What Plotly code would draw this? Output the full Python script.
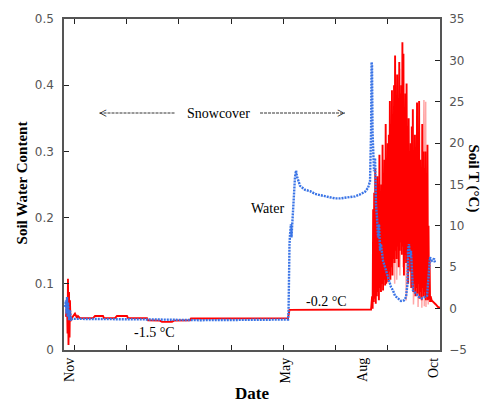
import plotly.graph_objects as go

# ---- data (x in days since start of record) ----
swc_day = [1.0, 1.9, 2.4, 2.9, 3.4, 3.8, 4.8, 5.7, 6.7, 8.6, 15, 40, 92, 130, 170, 214.5,
           215.0, 215.4, 215.9, 216.4, 217.3, 217.8, 218.3, 219.3, 220.2, 221.2, 222.2, 223.1,
           226.0, 230.8, 235.5, 240.3, 245.1, 249.9, 254.7, 259.5, 264.3, 269.0, 273.8, 278.6,
           283.4, 288.2, 291.1, 293.0, 294.0, 294.5, 294.9, 295.4, 295.9, 296.8, 297.8, 298.7,
           299.7, 300.7, 301.6, 302.6, 303.5, 305.4, 307.4, 309.3, 311.2, 313.1, 315.0, 316.9,
           319.8, 322.7, 325.5, 327.5, 328.9, 329.4, 330.3, 331.3, 332.2, 333.2, 334.1, 337.0,
           339.9, 342.8, 345.6, 347.6, 348.5, 349.5, 350.4, 352.3, 354.3, 355.2]
swc_val = [0.065, 0.075, 0.055, 0.080, 0.050, 0.072, 0.045, 0.060, 0.046, 0.047, 0.047, 0.047, 0.046, 0.045, 0.046, 0.046,
           0.060, 0.130, 0.160, 0.175, 0.190, 0.170, 0.185, 0.200, 0.230, 0.262, 0.271, 0.262,
           0.248, 0.242, 0.240, 0.236, 0.234, 0.232, 0.230, 0.229, 0.229, 0.230, 0.231, 0.232,
           0.235, 0.239, 0.245, 0.255, 0.330, 0.435, 0.430, 0.330, 0.300, 0.270, 0.290, 0.220,
           0.200, 0.170, 0.190, 0.150, 0.160, 0.135, 0.125, 0.115, 0.105, 0.095, 0.090, 0.082,
           0.078, 0.074, 0.075, 0.080, 0.100, 0.150, 0.160, 0.140, 0.150, 0.110, 0.090, 0.085,
           0.080, 0.078, 0.080, 0.082, 0.100, 0.130, 0.140, 0.135, 0.138, 0.132]

temp_day = [1.9, 2.9, 3.4, 3.8, 4.3, 4.8, 5.3, 5.7, 6.2, 7.7, 10.5, 12.4, 13.4, 15.3, 27.8, 29.7,
            37.3, 38.3, 48.8, 50.7, 60.3, 61.3, 79.5, 80.4, 91.9, 93.8, 103.4, 105.3, 120.6, 121.6,
            214.5, 215.9, 294.0,
            295.0, 295.5, 296.0, 296.5, 297.0, 297.5, 298.0, 298.5, 299.0, 299.5, 300.0, 300.5,
            301.0, 301.5, 302.0, 302.5, 303.0, 303.5, 304.0, 304.5, 305.0, 305.5, 306.0, 306.5,
            307.0, 307.5, 308.0, 308.5, 309.0, 309.5, 310.0, 310.5, 311.0, 311.5, 312.0, 312.5,
            313.0, 313.5, 314.0, 314.5, 315.0, 315.5, 316.0, 316.5, 317.0, 317.5, 318.0, 318.5,
            319.0, 319.5, 320.0, 320.5, 321.0, 321.5, 322.0, 322.5, 323.0, 323.5, 324.0, 324.5,
            325.0, 325.5, 326.0, 326.5, 327.0, 327.5, 328.0, 328.5, 329.0, 329.5, 330.0, 330.5,
            331.0, 331.5, 332.0, 332.5, 333.0, 333.5, 334.0, 334.5, 335.0, 335.5, 336.0, 336.5,
            337.0, 337.5, 338.0, 338.5, 339.0, 339.5, 340.0, 340.5, 341.0, 341.5, 342.0, 342.5,
            343.0, 343.5, 344.0, 344.5, 345.0, 345.5, 346.0, 346.5, 347.0, 347.5, 348.0, 348.5,
            349.0, 349.5, 350.0, 350.5, 351.0, 352.0, 354.0, 356.0, 358.0, 360.0]
temp_val = [-1.0, 1.0, -3.0, 3.6, -4.4, 2.0, -3.5, 1.0, -1.5, -1.1, -0.6, -1.1, -0.9, -1.15, -1.15, -0.9,
            -0.9, -1.15, -1.15, -0.9, -0.9, -1.15, -1.15, -1.4, -1.45, -1.6, -1.6, -1.45, -1.4, -1.2,
            -1.15, -0.15, -0.1,
            1.5, 0.0, 12.0, 0.8, 14.0, 1.2, 17.0, 0.6, 13.0, 1.5, 16.0, 2.0,
            15.0, 1.0, 18.6, 2.5, 14.0, 2.0, 15.0, 3.0, 19.8, 2.2, 16.0, 3.5,
            18.0, 2.8, 22.3, 3.0, 17.0, 4.0, 20.0, 3.2, 21.0, 4.5, 25.1, 3.5,
            21.0, 5.0, 26.4, 4.0, 22.0, 6.0, 27.0, 5.5, 30.6, 7.0, 25.0, 6.0,
            28.3, 7.5, 24.0, 5.0, 29.8, 7.0, 26.0, 8.0, 27.0, 6.5, 32.2, 7.5,
            30.8, 4.0, 24.0, 6.5, 26.0, 5.5, 27.2, 7.0, 22.0, 3.0, 23.0, 6.0,
            19.0, 4.5, 20.0, 2.5, 22.0, 3.5, 24.1, 2.0, 18.0, 3.0, 21.0, 1.5,
            19.0, 2.5, 24.9, 1.8, 20.0, 3.0, 25.1, 1.2, 18.0, 2.0, 16.0, 1.0,
            22.3, 2.5, 19.0, 1.5, 17.0, 2.0, 19.0, 1.0, 15.0, 1.5, 19.8, 1.0,
            10.0, 1.2, 6.0, 0.8, 1.5, 1.0, 0.8, 0.5, 0.2, 0.1]

temp2_day = [316.3, 316.6, 318.3, 318.6, 321.3, 321.6, 324.3, 324.6, 327.3, 327.6, 334.3, 334.6,
             338.6, 339.0, 342.3, 342.6, 344.6, 345.0, 346.3, 346.6, 347.2, 348.8]
temp2_val = [24.0, 3.0, 27.0, 3.5, 29.0, 4.0, 28.0, 5.0, 20.0, 1.0, 21.0, 0.5,
             20.0, 0.2, 18.0, 0.1, 25.2, 0.3, 25.0, 0.2, 12.0, 0.5]

frame_ticks = [10, 60, 110, 160, 210, 260, 310, 360]
month_pos = [5.7, 211.6, 285.3, 353.3]
month_lab = ["Nov", "May", "Aug", "Oct"]
swc_ticks = [0, 0.1, 0.2, 0.3, 0.4, 0.5]
swc_tick_text = ["0", "0.1", "0.2", "0.3", "0.4", "0.5"]
temp_ticks = [-5, 0, 5, 10, 15, 20, 25, 30, 35]

SERIF = "Liberation Serif, Times New Roman, serif"
SANS = "DejaVu Sans, sans-serif"
GRAY = "#555555"

fig = go.Figure()
# temperature on base axis (y, right side); soil water on overlaying axis (y2, left) so it draws on top
fig.add_trace(go.Scatter(x=temp2_day, y=temp2_val, yaxis="y", mode="lines",
                         line=dict(color="rgba(255,60,60,0.45)", width=1.5), hoverinfo="skip"))
fig.add_trace(go.Scatter(x=temp_day, y=temp_val, yaxis="y", mode="lines",
                         line=dict(color="#ff0000", width=1.9)))
fig.add_trace(go.Scatter(x=swc_day, y=swc_val, yaxis="y2", mode="lines",
                         line=dict(color="#3a74e6", width=2.4, dash="2px,1px")))
fig.add_trace(go.Scatter(x=[0, 360], y=[None, None], xaxis="x2", yaxis="y", mode="lines",
                         showlegend=False, hoverinfo="skip"))

axis_common = dict(showgrid=False, zeroline=False, showline=True, linecolor=GRAY, linewidth=1.5,
                   ticks="inside", ticklen=5, tickcolor="#222", tickwidth=1)

# page body has an 8px default margin, so the figure is shifted; compensate in size/margins
fig.update_layout(
    width=492, height=404, autosize=False,
    margin=dict(l=56, r=60, t=4, b=62),
    paper_bgcolor="white", plot_bgcolor="white",
    showlegend=False,
    xaxis=dict(range=[0, 360], tickvals=frame_ticks, showticklabels=False, mirror="ticks", **axis_common),
    xaxis2=dict(range=[0, 360], overlaying="x", anchor="y", side="bottom", tickvals=month_pos,
                ticktext=month_lab, tickangle=-90, ticks="", showline=False, showgrid=False,
                zeroline=False, tickfont=dict(family=SERIF, size=14, color="black"),
                ticklabelstandoff=4),
    yaxis=dict(range=[-5, 35], tickvals=temp_ticks, side="right", ticklabeloverflow="allow",
               tickfont=dict(family=SANS, size=12, color=GRAY), ticklabelstandoff=5, **axis_common),
    yaxis2=dict(range=[0, 0.5], tickvals=swc_ticks, ticktext=swc_tick_text, overlaying="y", side="left",
                ticklabeloverflow="allow",
                tickfont=dict(family=SANS, size=12, color=GRAY), ticklabelstandoff=6, **axis_common),
)

ann = [
    dict(text="<b>Soil Water Content</b>", xref="paper", yref="paper", x=-0.112, y=0.506,
         textangle=-90, font=dict(family=SERIF, size=15, color="black")),
    dict(text="<b>Soil T (°C)</b>", xref="paper", yref="paper", x=1.088, y=0.518,
         textangle=90, font=dict(family=SERIF, size=15, color="black")),
    dict(text="<b>Date</b>", xref="paper", yref="paper", x=0.5, y=-0.13,
         font=dict(family=SERIF, size=17, color="black")),
    dict(text="Snowcover", x=147.5, y=0.358, font=dict(family=SERIF, size=14, color="black")),
    dict(text="<", x=31.8, y=0.358, xanchor="left", font=dict(family=SERIF, size=14, color="black")),
    dict(text=">", x=271, y=0.358, xanchor="right", font=dict(family=SERIF, size=14, color="black")),
    dict(text="Water", x=195.3, y=0.213, font=dict(family=SERIF, size=14, color="black")),
    dict(text="-0.2 °C", x=251.8, y=0.074, font=dict(family=SERIF, size=14, color="black")),
    dict(text="-1.5 °C", x=86.2, y=0.0266, font=dict(family=SERIF, size=14, color="black")),
]
for a in ann:
    a.setdefault("xref", "x")
    a.setdefault("yref", "y2")
    a.setdefault("xanchor", "center")
    a.setdefault("yanchor", "middle")
    a["showarrow"] = False
    fig.add_annotation(**a)

for x0, x1 in [(34.0, 106.3), (187.7, 269.0)]:
    fig.add_shape(type="line", xref="x", yref="y2", x0=x0, x1=x1, y0=0.358, y1=0.358,
                  line=dict(color="#333", width=1, dash="3px,1px"))

fig.write_html("out.html")
